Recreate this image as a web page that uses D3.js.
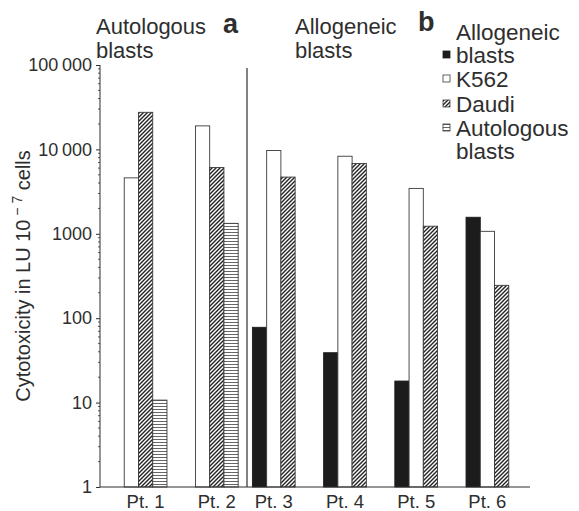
<!DOCTYPE html>
<html><head><meta charset="utf-8">
<script src="https://cdn.jsdelivr.net/npm/d3@7"></script>
<style>
body{margin:0;background:#fff;}
svg{display:block;font-family:"Liberation Sans",Arial,Helvetica,sans-serif;}
</style></head>
<body><svg id="chart" width="579" height="511"></svg>
<script>
const patients = ["Pt. 1","Pt. 2","Pt. 3","Pt. 4","Pt. 5","Pt. 6"];
const seriesNames = ["Allogeneic blasts","K562","Daudi","Autologous blasts"];
const allogeneic = [null, null, 78, 39, 18, 1570];
const k562 = [4600, 19000, 9700, 8300, 3450, 1070];
const daudi = [27500, 6100, 4700, 6800, 1230, 245];
const autologous = [10.7, 1330, null, null, null, null];
const yTicks = [1, 10, 100, 1000, 10000, 100000];
const yTickLabels = ["1","10","100","1000","10\u2009000","100\u2009000"];

const seriesValues = [allogeneic, k562, daudi, autologous];
const ink = "#2e2e2e";
const svg = d3.select("#chart");

const defs = svg.append("defs");
const hatch = defs.append("pattern").attr("id","hatch").attr("patternUnits","userSpaceOnUse")
  .attr("width",4).attr("height",4);
hatch.append("rect").attr("width",4).attr("height",4).attr("fill","#fff");
hatch.append("path").attr("d","M-1,1 l2,-2 M0,4 l4,-4 M3,5 l2,-2").attr("stroke","#222").attr("stroke-width",1.4);
const hstripe = defs.append("pattern").attr("id","hstripe").attr("patternUnits","userSpaceOnUse")
  .attr("width",4).attr("height",3);
hstripe.append("rect").attr("width",4).attr("height",3).attr("fill","#fff");
hstripe.append("path").attr("d","M0,1.5 H4").attr("stroke","#555").attr("stroke-width",0.9);

const fills = ["#1c1c1c","#ffffff","url(#hatch)","url(#hstripe)"];

const y = d3.scaleLog().domain([1,100000]).range([487,65]);
const x = d3.scaleBand().domain(patients).range([110,523]).paddingInner(0.2).paddingOuter(0);
const xs = d3.scaleBand().domain(d3.range(4)).range([0, x.bandwidth()]);

// y axis
const yAxis = d3.axisLeft(y)
  .tickValues(yTicks)
  .tickFormat((d,i)=>yTickLabels[i])
  .tickSize(4).tickPadding(4);
const ga = svg.append("g").attr("transform","translate(100,0)").call(yAxis);
ga.select(".domain").attr("stroke",ink).attr("d","M0,487V65");
ga.selectAll(".tick line").attr("stroke",ink);
ga.selectAll(".tick text").attr("fill",ink).attr("font-size",18).attr("font-family","Liberation Sans, Arial, sans-serif");
// minor ticks
const minor = [];
for (let e=0;e<5;e++) for (let m=2;m<10;m++) minor.push(m*Math.pow(10,e));
svg.append("g").selectAll("line").data(minor).join("line")
  .attr("x1",98).attr("x2",100).attr("y1",d=>y(d)).attr("y2",d=>y(d))
  .attr("stroke",ink).attr("stroke-width",0.8);

// bars
const bars = [];
patients.forEach((p,i)=>{
  seriesValues.forEach((arr,s)=>{
    if (arr[i]!=null) bars.push({p, s, v:arr[i]});
  });
});
svg.append("g").selectAll("rect").data(bars).join("rect")
  .attr("x",d=>x(d.p)+xs(d.s))
  .attr("width",xs.bandwidth())
  .attr("y",d=>y(d.v))
  .attr("height",d=>y(1)-y(d.v))
  .attr("fill",d=>fills[d.s])
  .attr("stroke",d=>d.s===0?"#1c1c1c":"#3a3a3a")
  .attr("stroke-width",0.9);

// x axis line
svg.append("line").attr("x1",100).attr("x2",530).attr("y1",y(1)).attr("y2",y(1))
  .attr("stroke",ink).attr("stroke-width",1);

// x labels centered under present bars
svg.append("g").selectAll("text").data(patients).join("text")
  .attr("x",(p,i)=>{
    const present = seriesValues.map((a,s)=>a[i]!=null?s:null).filter(s=>s!=null);
    const x0 = x(p)+xs(d3.min(present)), x1 = x(p)+xs(d3.max(present))+xs.bandwidth();
    return (x0+x1)/2;
  })
  .attr("y",508).attr("text-anchor","middle").attr("font-size",18.5).attr("fill",ink)
  .text(d=>d);

// divider between panels a and b
svg.append("line").attr("x1",247).attr("x2",247).attr("y1",68).attr("y2",y(1))
  .attr("stroke",ink).attr("stroke-width",1.2);

// y axis title
const yt = svg.append("text").attr("transform","translate(30,276) rotate(-90)")
  .attr("text-anchor","middle").attr("font-size",20).attr("fill",ink);
yt.append("tspan").text("Cytotoxicity in LU 10");
yt.append("tspan").attr("font-size",14).attr("dy",-8).text(" \u2212 7");
yt.append("tspan").attr("dy",8).text(" cells");

// panel titles
function title(xp, yp, lines, size){
  lines.forEach((l,i)=>svg.append("text").attr("x",xp).attr("y",yp+i*24)
    .attr("font-size",size).attr("fill",ink).text(l));
}
title(96,34,["Autologous","blasts"],22);
title(295,34,["Allogeneic","blasts"],22);
svg.append("text").attr("x",223).attr("y",33).attr("font-size",27).attr("font-weight","bold").attr("fill",ink).text("a");
svg.append("text").attr("x",418).attr("y",31).attr("font-size",27).attr("font-weight","bold").attr("fill",ink).text("b");

// legend
const legendRows = [
  {label:"Allogeneic", s:null, y:40},
  {label:"blasts", s:0, y:63},
  {label:"K562", s:1, y:87},
  {label:"Daudi", s:2, y:112},
  {label:"Autologous", s:3, y:136},
  {label:"blasts", s:null, y:159}
];
const lg = svg.append("g");
lg.selectAll("text").data(legendRows).join("text")
  .attr("x",456).attr("y",d=>d.y).attr("font-size",22.5).attr("fill",ink).text(d=>d.label);
lg.selectAll("rect").data(legendRows.filter(d=>d.s!=null)).join("rect")
  .attr("x",443).attr("y",d=>d.y-12).attr("width",7).attr("height",7)
  .attr("fill",d=>fills[d.s]).attr("stroke",d=>d.s===0?"#1c1c1c":"#3a3a3a").attr("stroke-width",0.8);
</script></body></html>
